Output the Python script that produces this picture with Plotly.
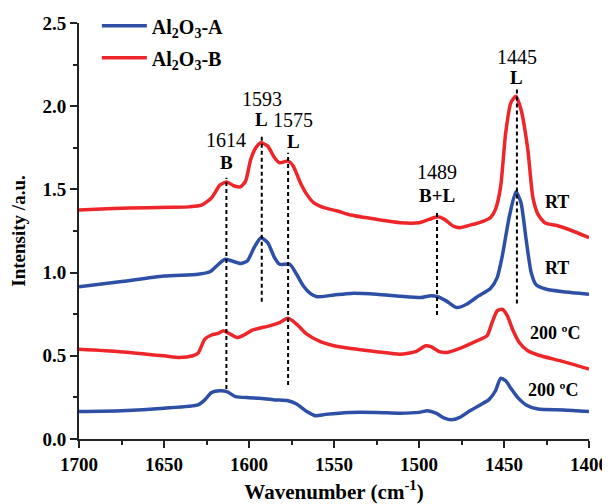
import plotly.graph_objects as go

# ---------------- data ----------------
wn_b_rt = [1700, 1680, 1660, 1645, 1635, 1628, 1622, 1617, 1613, 1609, 1605, 1602, 1599, 1596, 1593,
           1589, 1585, 1582, 1577, 1574, 1570, 1566, 1562, 1556, 1548, 1540, 1525, 1511, 1500,
           1494, 1489, 1485, 1480, 1476, 1470, 1462, 1458, 1455, 1452, 1449, 1446, 1443, 1440,
           1436, 1433, 1430, 1426, 1418, 1411, 1400]
int_b_rt = [1.376, 1.385, 1.39, 1.392, 1.395, 1.405, 1.45, 1.527, 1.545, 1.522, 1.515, 1.55, 1.68, 1.75, 1.78,
            1.76, 1.69, 1.66, 1.67, 1.64, 1.545, 1.47, 1.42, 1.39, 1.37, 1.346, 1.32, 1.30, 1.30,
            1.32, 1.335, 1.32, 1.28, 1.27, 1.285, 1.31, 1.33, 1.38, 1.515, 1.84, 2.02, 2.06, 1.98,
            1.74, 1.45, 1.35, 1.30, 1.28, 1.256, 1.21]

wn_a_rt = [1700, 1676, 1650, 1630, 1623, 1618, 1614, 1610, 1605, 1601, 1597, 1593, 1589, 1585, 1582,
           1576, 1572, 1568, 1564, 1560, 1550, 1540, 1525, 1511, 1499, 1494, 1489, 1484, 1478,
           1472, 1465, 1458, 1454, 1451, 1447, 1443, 1440, 1437, 1434, 1431, 1425, 1415, 1400]
int_a_rt = [0.915, 0.945, 0.98, 0.99, 1.005, 1.05, 1.08, 1.07, 1.055, 1.07, 1.15, 1.21, 1.18, 1.09, 1.05,
            1.05, 0.99, 0.92, 0.875, 0.855, 0.865, 0.875, 0.87, 0.858, 0.85, 0.86, 0.855, 0.83, 0.79,
            0.81, 0.86, 0.905, 0.97, 1.10, 1.33, 1.486, 1.42, 1.20, 1.00, 0.925, 0.90, 0.885, 0.87]

wn_b_200 = [1700, 1676, 1650, 1641, 1633, 1630, 1626, 1622, 1618, 1615, 1611, 1607, 1603, 1598, 1588,
            1582, 1577, 1572, 1566, 1558, 1550, 1541, 1525, 1511, 1502, 1496, 1493, 1488, 1484,
            1476, 1466, 1460, 1457, 1454, 1451, 1448, 1445, 1441, 1436, 1430, 1415, 1400]
int_b_200 = [0.539, 0.525, 0.50, 0.49, 0.50, 0.515, 0.60, 0.625, 0.635, 0.65, 0.63, 0.61, 0.625, 0.655, 0.68,
             0.70, 0.725, 0.69, 0.63, 0.585, 0.56, 0.545, 0.525, 0.509, 0.525, 0.56, 0.555, 0.525, 0.52,
             0.545, 0.59, 0.62, 0.70, 0.77, 0.78, 0.74, 0.66, 0.58, 0.53, 0.505, 0.465, 0.42]

wn_a_200 = [1700, 1675, 1650, 1630, 1626, 1622, 1617, 1613, 1608, 1600, 1594, 1585, 1577, 1572, 1566,
            1561, 1555, 1541, 1525, 1511, 1500, 1495, 1490, 1485, 1481, 1476, 1470, 1464, 1459,
            1455, 1452, 1449, 1446, 1442, 1437, 1430, 1415, 1400]
int_a_200 = [0.165, 0.17, 0.185, 0.205, 0.235, 0.28, 0.29, 0.285, 0.255, 0.248, 0.245, 0.235, 0.23, 0.21, 0.165,
             0.14, 0.148, 0.16, 0.16, 0.155, 0.16, 0.17, 0.155, 0.125, 0.115, 0.13, 0.17, 0.205, 0.235,
             0.29, 0.365, 0.35, 0.305, 0.25, 0.205, 0.18, 0.175, 0.165]

# dashed marker lines: position, y bottom, y top
mark_pos = [1613.3, 1592.5, 1577.0, 1489.4, 1442.4]
mark_ymin = [0.30, 0.825, 0.325, 0.745, 0.815]
mark_ymax = [1.57, 1.83, 1.72, 1.375, 2.10]

# peak labels
peak_x = [1613.5, 1592.4, 1574.0, 1489.2, 1442.4]
peak_num_y = [1.797, 2.043, 1.917, 1.605, 2.296]
peak_band_y = [1.66, 1.923, 1.785, 1.466, 2.17]
peak_num = ["1614", "1593", "1575", "1489", "1445"]
peak_band = ["B", "L", "L", "B+L", "L"]

# curve condition labels
cond_x = [1418.8, 1418.8, 1420.0, 1421.2]
cond_y = [1.424, 1.028, 0.637, 0.294]
cond_txt = ["RT", "RT", "200 ºC", "200 ºC"]

BLUE = "#2E4FA6"
RED = "#EE2529"
FONT = "'Liberation Serif', 'Times New Roman', serif"
AX = "#222222"

fig = go.Figure()

fig.add_trace(go.Scatter(x=wn_a_rt, y=int_a_rt, mode="lines", name="Al<sub>2</sub>O<sub>3</sub>-A",
                         legendgroup="a",
                         line=dict(color=BLUE, width=3.5, shape="spline", smoothing=0.6)))
fig.add_trace(go.Scatter(x=wn_b_rt, y=int_b_rt, mode="lines", name="Al<sub>2</sub>O<sub>3</sub>-B",
                         legendgroup="b",
                         line=dict(color=RED, width=3.5, shape="spline", smoothing=0.6)))
fig.add_trace(go.Scatter(x=wn_b_200, y=int_b_200, mode="lines", showlegend=False, legendgroup="b",
                         line=dict(color=RED, width=3.5, shape="spline", smoothing=0.6)))
fig.add_trace(go.Scatter(x=wn_a_200, y=int_a_200, mode="lines", showlegend=False, legendgroup="a",
                         line=dict(color=BLUE, width=3.5, shape="spline", smoothing=0.6)))

for xp, y0, y1 in zip(mark_pos, mark_ymin, mark_ymax):
    fig.add_trace(go.Scatter(x=[xp, xp], y=[y0, y1], mode="lines", showlegend=False,
                             line=dict(color="black", width=2, dash="4px,3px")))

for xp, yn, yb, tn, tb in zip(peak_x, peak_num_y, peak_band_y, peak_num, peak_band):
    fig.add_annotation(x=xp, y=yn, text=tn, showarrow=False,
                       font=dict(family=FONT, size=20, color="black"))
    fig.add_annotation(x=xp, y=yb, text=tb, showarrow=False,
                       font=dict(family=FONT, size=19, color="black", weight="bold"))

for xp, yp, t in zip(cond_x, cond_y, cond_txt):
    fig.add_annotation(x=xp, y=yp, text=t, showarrow=False,
                       font=dict(family=FONT, size=18, color="black", weight="bold"))

# page body has an 8px margin: the figure is sized and offset to compensate
fig.update_layout(
    width=602, height=496,
    margin=dict(l=71, r=21, t=15, b=65, autoexpand=False),
    plot_bgcolor="white", paper_bgcolor="white",
    font=dict(family=FONT, color="black"),
    legend=dict(x=0.035, y=1.04, xanchor="left", yanchor="top", bgcolor="rgba(0,0,0,0)",
                font=dict(family=FONT, size=20, color="black", weight="bold"), itemwidth=45,
                tracegroupgap=3),
)
fig.update_xaxes(range=[1700, 1400], showgrid=False, zeroline=False, automargin=False,
                 showline=True, linecolor=AX, linewidth=2,
                 ticks="outside", ticklen=7, tickwidth=2, tickcolor=AX,
                 tickvals=[1700, 1650, 1600, 1550, 1500, 1450, 1400],
                 tickfont=dict(family=FONT, size=19, color="black", weight="bold"),
                 minor=dict(ticks="outside", ticklen=4, tickwidth=2, tickcolor=AX, dtick=25, tick0=1400),
                 title=dict(text="Wavenumber (cm<sup>-1</sup>)",
                            font=dict(family=FONT, size=21, weight="bold"), standoff=12))
fig.update_yaxes(range=[0, 2.5], showgrid=False, zeroline=False, automargin=False,
                 showline=True, linecolor=AX, linewidth=2,
                 ticks="outside", ticklen=7, tickwidth=2, tickcolor=AX,
                 tickvals=[0, 0.5, 1.0, 1.5, 2.0, 2.5], tickformat=".1f",
                 tickfont=dict(family=FONT, size=19, color="black", weight="bold"),
                 minor=dict(ticks="outside", ticklen=4, tickwidth=2, tickcolor=AX, dtick=0.25, tick0=0),
                 title=dict(text="Intensity /a.u.",
                            font=dict(family=FONT, size=19, weight="bold"), standoff=18))

fig.write_html("out.html")
